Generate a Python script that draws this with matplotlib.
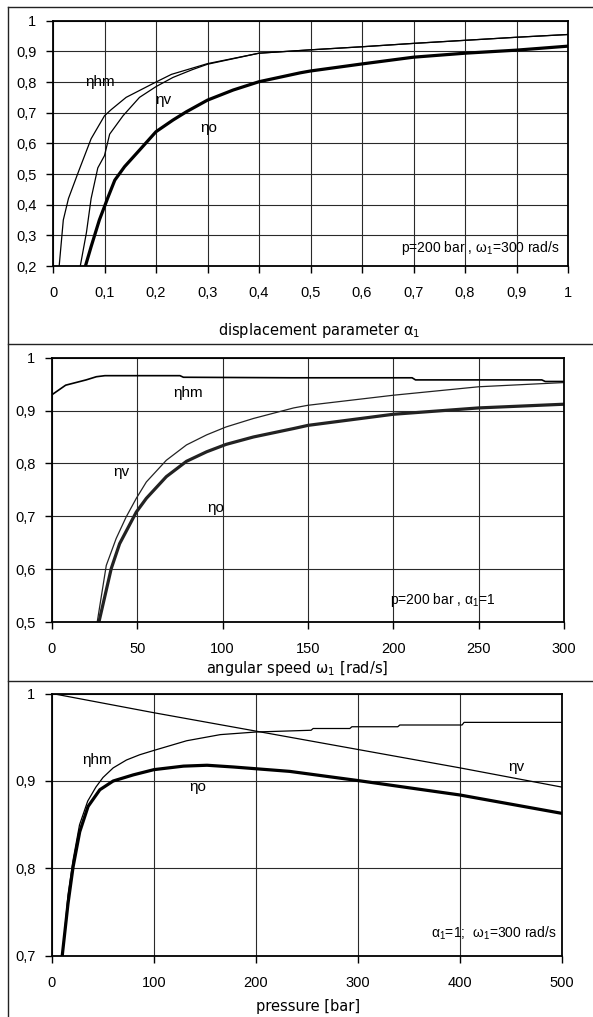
import matplotlib
matplotlib.use("Agg")
import matplotlib.pyplot as plt
from matplotlib.ticker import FuncFormatter, MultipleLocator
from matplotlib.lines import Line2D

plt.rcParams['font.family'] = ['Liberation Sans', 'DejaVu Sans']
plt.rcParams['mathtext.fontset'] = 'custom'
plt.rcParams['mathtext.rm'] = 'Liberation Sans'
plt.rcParams['mathtext.default'] = 'regular'

# ---------------- data: panel 1 (displacement parameter) ----------------
p1_x_hm = [0.012, 0.02, 0.03, 0.05, 0.074, 0.1, 0.113, 0.142, 0.2, 0.23, 0.27, 0.3, 0.4, 0.5, 0.6, 0.7, 0.8, 0.9, 1.0]
p1_hm = [0.2, 0.35, 0.42, 0.51, 0.615, 0.69, 0.71, 0.75, 0.80, 0.825, 0.845, 0.86, 0.894, 0.905, 0.915, 0.926, 0.936, 0.946, 0.955]
p1_x_v = [0.053, 0.065, 0.074, 0.087, 0.1, 0.11, 0.136, 0.168, 0.2, 0.233, 0.27, 0.3, 0.4, 0.5, 0.6, 0.7, 0.8, 0.9, 1.0]
p1_v = [0.2, 0.31, 0.42, 0.52, 0.56, 0.63, 0.69, 0.75, 0.785, 0.815, 0.84, 0.858, 0.894, 0.905, 0.915, 0.926, 0.936, 0.946, 0.955]
p1_x_o = [0.063, 0.074, 0.09, 0.107, 0.12, 0.139, 0.168, 0.2, 0.233, 0.259, 0.3, 0.35, 0.4, 0.48, 0.5, 0.6, 0.7, 0.8, 0.9, 1.0]
p1_o = [0.2, 0.263, 0.35, 0.425, 0.48, 0.524, 0.578, 0.638, 0.676, 0.703, 0.741, 0.774, 0.801, 0.83, 0.836, 0.859, 0.881, 0.894, 0.904, 0.917]

# ---------------- data: panel 2 (angular speed) ----------------
p2_x_hm = [0, 8, 20, 26, 31, 75, 77, 140, 211, 213, 287, 289, 300]
p2_hm = [0.930, 0.948, 0.958, 0.964, 0.966, 0.966, 0.963, 0.962, 0.962, 0.958, 0.958, 0.955, 0.955]
p2_x_v = [26.5, 31.8, 37.6, 43.5, 49.4, 55.3, 67, 78.8, 90.6, 102, 118, 141.6, 150, 200, 250, 300]
p2_v = [0.5, 0.607, 0.658, 0.699, 0.734, 0.765, 0.806, 0.835, 0.854, 0.869, 0.885, 0.905, 0.910, 0.929, 0.945, 0.953]
p2_x_o = [27.5, 34.7, 39.6, 49.4, 55.3, 67, 78.8, 90.6, 102, 118, 141.6, 150, 200, 250, 300]
p2_o = [0.5, 0.601, 0.648, 0.708, 0.734, 0.775, 0.804, 0.822, 0.836, 0.85, 0.866, 0.872, 0.893, 0.905, 0.912]

# ---------------- data: panel 3 (pressure) ----------------
p3_x_v = [0, 100, 200, 300, 400, 500]
p3_v = [1.0, 0.978, 0.957, 0.936, 0.915, 0.893]
p3_x_hm = [10.3, 15.7, 20.7, 27, 35, 43, 50, 60, 73, 86, 100, 132, 165, 200, 254, 256, 292, 294, 339, 341, 402, 404, 500]
p3_hm = [0.7, 0.77, 0.81, 0.85, 0.877, 0.893, 0.904, 0.915, 0.924, 0.93, 0.935, 0.946, 0.953, 0.956, 0.958, 0.960, 0.960, 0.962, 0.962, 0.964, 0.964, 0.967, 0.967]
p3_x_o = [10, 15.7, 20.7, 27.2, 35.4, 46.9, 60, 79.7, 100, 128.9, 152, 178, 211, 233, 300, 400, 500]
p3_o = [0.7, 0.76, 0.802, 0.842, 0.871, 0.89, 0.9, 0.907, 0.913, 0.917, 0.918, 0.916, 0.913, 0.911, 0.9005, 0.884, 0.863]

W, H = 593, 1017
fig = plt.figure(figsize=(W / 100, H / 100), dpi=100)


def ax_px(left, right, top, bottom):
    return fig.add_axes([left / W, 1 - bottom / H, (right - left) / W, (bottom - top) / H])


def fmt(v, pos):
    s = ('%.1f' % v).rstrip('0').rstrip('.')
    return s.replace('.', ',')


TICK_FS = 10.5
XLAB_FS = 10.5
ANN_FS = 10
THIN = 0.9
THICK = 2.3


def style(ax, xlim, ylim, xstep, ystep):
    ax.set_xlim(*xlim)
    ax.set_ylim(*ylim)
    ax.xaxis.set_major_locator(MultipleLocator(xstep))
    ax.yaxis.set_major_locator(MultipleLocator(ystep))
    ax.xaxis.set_major_formatter(FuncFormatter(fmt))
    ax.yaxis.set_major_formatter(FuncFormatter(fmt))
    ax.grid(True, color='#2a2a2a', lw=0.8)
    ax.set_axisbelow(True)
    for s in ax.spines.values():
        s.set_linewidth(1.3)
        s.set_color('black')
    ax.tick_params(direction='out', length=5, width=1.0, labelsize=TICK_FS)
    ax.tick_params(axis='x', pad=9.5)
    ax.tick_params(axis='y', pad=7)


def eta(ax, x, y, sub):
    ax.text(x, y, 'η' + sub, fontsize=11, va='center', ha='left')


def ann(ax, x, y, s):
    ax.text(x, y, s, fontsize=ANN_FS, va='center', ha='left')


def xlab(x, y, s):
    fig.text(x / W, 1 - y / H, s, fontsize=XLAB_FS, family=['DejaVu Sans'], ha='center', va='center')


# panel 1
ax1 = ax_px(53, 568, 20.7, 266)
style(ax1, (0, 1), (0.2, 1), 0.1, 0.1)
ax1.plot(p1_x_hm, p1_hm, color='black', lw=THIN)
ax1.plot(p1_x_v, p1_v, color='black', lw=THIN)
ax1.plot(p1_x_o, p1_o, color='black', lw=THICK)
eta(ax1, 0.062, 0.80, 'hm')
eta(ax1, 0.198, 0.741, 'v')
eta(ax1, 0.285, 0.65, 'o')
ann(ax1, 0.675, 0.259, 'p=200 bar , ω$_1$=300 rad/s')
xlab(319, 331, 'displacement parameter α$_1$')

# panel 2
ax2 = ax_px(52, 564, 357.7, 622)
style(ax2, (0, 300), (0.5, 1), 50, 0.1)
ax2.plot(p2_x_hm, p2_hm, color='black', lw=1.2)
ax2.plot(p2_x_v, p2_v, color='#222222', lw=THIN)
ax2.plot(p2_x_o, p2_o, color='#222222', lw=THICK)
eta(ax2, 70.9, 0.933, 'hm')
eta(ax2, 35.7, 0.784, 'v')
eta(ax2, 90.8, 0.716, 'o')
ann(ax2, 198, 0.542, 'p=200 bar , α$_1$=1')
xlab(297, 668, 'angular speed ω$_1$ [rad/s]')

# panel 3
ax3 = ax_px(52, 562, 693.5, 956)
style(ax3, (0, 500), (0.7, 1), 100, 0.1)
ax3.plot(p3_x_v, p3_v, color='black', lw=THIN)
ax3.plot(p3_x_hm, p3_hm, color='black', lw=THIN)
ax3.plot(p3_x_o, p3_o, color='black', lw=THICK)
eta(ax3, 29.4, 0.924, 'hm')
eta(ax3, 135, 0.893, 'o')
eta(ax3, 447, 0.916, 'v')
ann(ax3, 372, 0.726, 'α$_1$=1;  ω$_1$=300 rad/s')
xlab(308, 1006, 'pressure [bar]')

# outer frames
def fline(x0, y0, x1, y1):
    fig.add_artist(Line2D([x0 / W, x1 / W], [1 - y0 / H, 1 - y1 / H], color='#222222', lw=1.0))

fline(8, 7, 8, H + 2)
fline(8, 7, W + 2, 7)
fline(8, 344, W + 2, 344)
fline(8, 681, W + 2, 681)

fig.savefig('out.png', dpi=100)
